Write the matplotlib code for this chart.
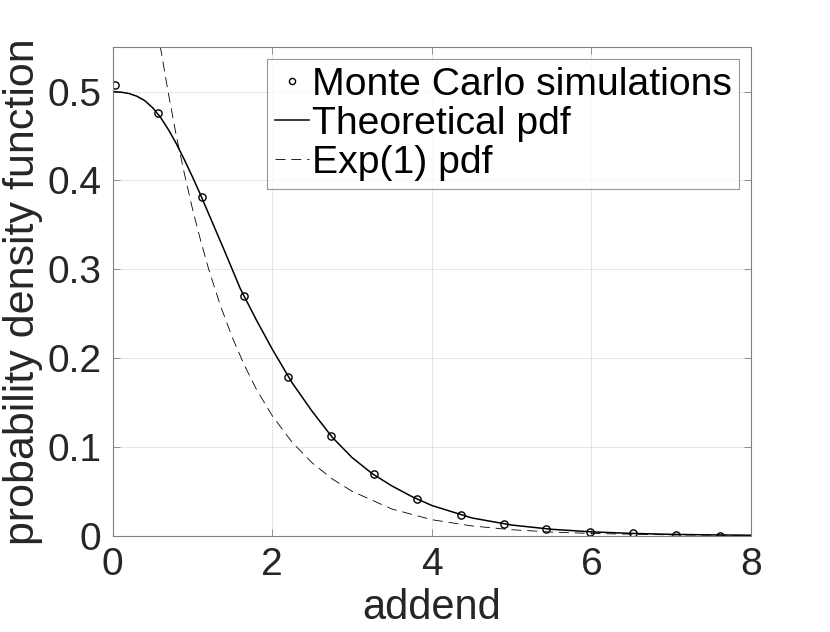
import matplotlib
matplotlib.use("Agg")
import matplotlib.pyplot as plt

plt.rcParams['font.family'] = ['Liberation Sans', 'DejaVu Sans']

# Monte Carlo histogram points
mc_x = [0.025, 0.57, 1.115, 1.645, 2.20, 2.735, 3.27, 3.82, 4.36, 4.90, 5.43, 5.985, 6.52, 7.06, 7.61]
mc_y = [0.507, 0.476, 0.381, 0.270, 0.179, 0.112, 0.069, 0.0413, 0.0237, 0.0132, 0.0075, 0.0038, 0.0027, 0.0008, 0.0002]

# Theoretical pdf
th_x = [0, 0.1, 0.2, 0.3, 0.4, 0.5, 0.6, 0.7, 0.8, 0.9, 1.0, 1.1, 1.2, 1.4, 1.6, 1.8, 2.0,
        2.25, 2.5, 2.75, 3.0, 3.25, 3.5, 3.75, 4.0, 4.5, 5.0, 5.5, 6.0, 6.5, 7.0, 7.5, 8.0]
th_y = [0.500, 0.4995, 0.498, 0.495, 0.490, 0.482, 0.471, 0.457, 0.441, 0.423, 0.404,
        0.384, 0.363, 0.321, 0.278, 0.243, 0.210, 0.172, 0.140, 0.111, 0.088, 0.070,
        0.056, 0.044, 0.034, 0.020, 0.012, 0.0072, 0.0043, 0.0026, 0.0015, 0.0009, 0.0005]

# Exp(1) pdf
ex_x = [0.5, 0.6, 0.7, 0.8, 0.9, 1.0, 1.1, 1.2, 1.35, 1.5, 1.65, 1.8, 2.0, 2.25, 2.5,
        2.75, 3.0, 3.5, 4.0, 4.5, 5.0, 5.5, 6.0, 7.0, 8.0]
ex_y = [0.607, 0.549, 0.497, 0.449, 0.407, 0.368, 0.333, 0.301, 0.259, 0.223, 0.192,
        0.165, 0.135, 0.105, 0.082, 0.064, 0.050, 0.030, 0.018, 0.011, 0.0067, 0.0041,
        0.0025, 0.0009, 0.0003]

xticks = [0, 2, 4, 6, 8]
yticks = [0, 0.1, 0.2, 0.3, 0.4, 0.5]
ytick_labels = ['0', '0.1', '0.2', '0.3', '0.4', '0.5']

fig = plt.figure(figsize=(8.3, 6.32), dpi=100)
ax = fig.add_axes([0.1358, 0.1524, 0.9048 - 0.1358, 0.9252 - 0.1524])

ax.plot(mc_x, mc_y, linestyle='none', marker='o', markersize=5.2, markerfacecolor='none',
        markeredgecolor='black', markeredgewidth=1.0, label='Monte Carlo simulations')
ax.plot(th_x, th_y, color='black', linewidth=1.1, label='Theoretical pdf')
ax.plot(ex_x, ex_y, color='black', linewidth=0.6, linestyle=(0, (12, 7)), label='Exp(1) pdf')

ax.set_xlim(0, 8)
ax.set_ylim(0, 0.55)
ax.set_xticks(xticks)
ax.set_yticks(yticks)
ax.set_xticklabels([str(t) for t in xticks])
ax.set_yticklabels(ytick_labels)

gray = '#262626'
ax.grid(True, color=gray, alpha=0.1, linewidth=0.8)
ax.set_axisbelow(True)
for s in ax.spines.values():
    s.set_color('#808080')
    s.set_linewidth(0.8)
ax.tick_params(direction='in', length=5, width=0.6, colors='#808080',
               labelcolor=gray, labelsize=28, top=True, right=True)
ax.tick_params(axis='x', pad=8)
ax.tick_params(axis='y', pad=8)

ax.set_xlabel('addend', fontsize=30, color=gray, labelpad=4)
ax.set_ylabel('probability density function', fontsize=31, color=gray, labelpad=3)

leg = ax.legend(loc='upper right', fontsize=28.2, handlelength=0.87, handletextpad=0.06,
                labelspacing=0.08, borderpad=0.2, borderaxespad=0.3, frameon=True,
                fancybox=False, markerscale=0.85)
leg.get_frame().set_edgecolor('#808080')
leg.get_frame().set_linewidth(0.8)

fig.savefig('out.png', dpi=100)
